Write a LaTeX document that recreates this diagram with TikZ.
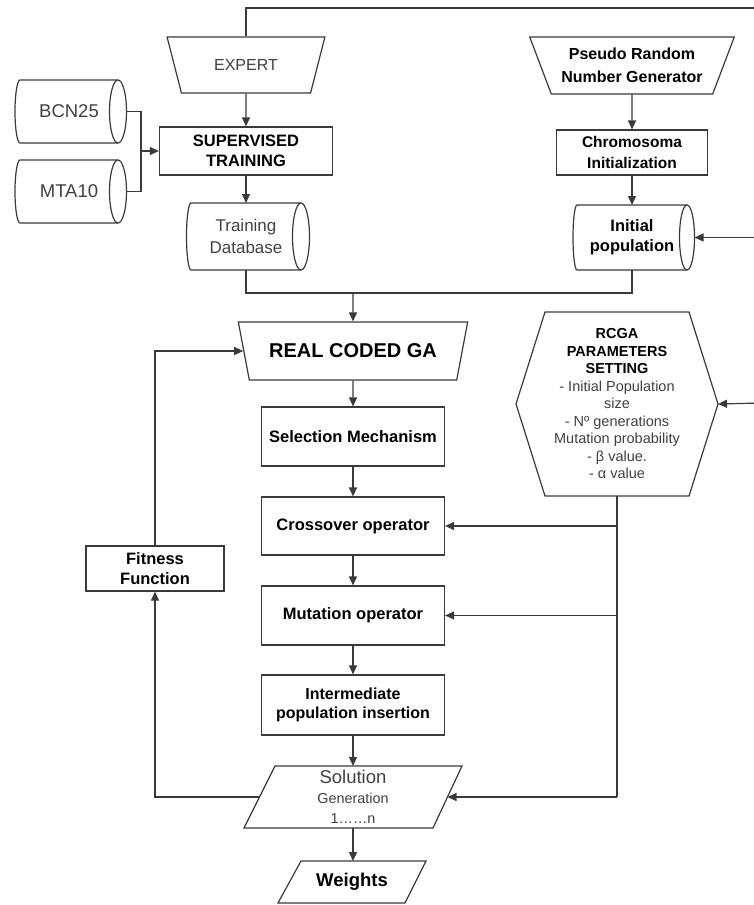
\documentclass[tikz,border=0pt]{standalone}
\usepackage{fontspec}
\setmainfont{Liberation Sans}
\usetikzlibrary{shapes.geometric,arrows.meta,calc}
\definecolor{lc}{HTML}{3A3A3A}
\definecolor{tc}{HTML}{404040}
% drum (stored data) outline around an invisible body node
\newcommand\drumoutline[4]{%
  \draw[ln] (#1.north west) -- (#1.north east)
    arc[start angle=90,end angle=-90,x radius=#3pt,y radius=#4pt]
    -- (#1.south west)
    arc[start angle=270,end angle=90,x radius=#2pt,y radius=#4pt] -- cycle;
  \draw[ln] (#1.north east) arc[start angle=90,end angle=270,x radius=#3pt,y radius=#4pt];
}
% parallelogram outline around an invisible body node: #2 top-left inset, #3 bottom-right inset
\newcommand\paraoutline[3]{%
  \draw[ln] (#1.south west) -- ($(#1.south east)+(-#3,0)$) -- (#1.north east)
    -- ($(#1.north west)+(#2,0)$) -- cycle;
}
\begin{document}
\begin{tikzpicture}[x=1pt,y=-1pt,
  shp/.style={draw=lc, line width=1.2pt, fill=white, align=center, inner sep=2pt},
  box/.style={shp, rectangle, text=black, font=\bfseries\fontsize{16.5}{20}\selectfont},
  trap/.style={shp, trapezium, trapezium stretches=true, shape border rotate=180,
    trapezium left angle=63.4, trapezium right angle=63.4},
  body/.style={inner sep=0pt, outer sep=0pt, align=center},
  ln/.style={draw=lc, line width=1.2pt},
  arr/.style={ln, -{Triangle[length=9pt,width=8pt]}}]
\useasboundingbox (0,0) rectangle (753,905);

% ---- nodes ----
\node[trap, minimum width=159pt, minimum height=56pt, text=tc,
  font=\fontsize{16}{19}\selectfont] (expert) at (246,65) {EXPERT};
\node[box, minimum width=173pt, minimum height=48pt] (sup) at (246,151) {SUPERVISED\\TRAINING};
\node[body, minimum width=98pt, minimum height=63pt, text=tc,
  font=\fontsize{18.5}{22}\selectfont] (bcn) at (69,111.5) {BCN25};
\node[body, minimum width=98pt, minimum height=63pt, text=tc,
  font=\fontsize{18.5}{22}\selectfont] (mta) at (69,191.5) {MTA10};
\node[body, minimum width=110pt, minimum height=67pt, text=tc,
  font=\fontsize{17}{21.5}\selectfont] (tdb) at (246,236.5) {Training\\Database};
\drumoutline{bcn}{5}{8.5}{31.5}
\drumoutline{mta}{5}{8.5}{31.5}
\drumoutline{tdb}{4.5}{8.5}{33.5}

\node[trap, minimum width=205pt, minimum height=57pt, text=black,
  font=\bfseries\fontsize{16}{23}\selectfont] (prng) at (632,65.5) {Pseudo Random\\Number Generator};
\node[box, minimum width=151pt, minimum height=45pt,
  font=\bfseries\fontsize{15.5}{20.5}\selectfont] (chrom) at (632,152.5) {Chromosoma\\Initialization};
\node[body, minimum width=110pt, minimum height=65pt, text=black,
  font=\bfseries\fontsize{16.5}{20}\selectfont] (ipop) at (632,237.5) {Initial\\population};
\drumoutline{ipop}{4}{7.5}{32.5}

\node[trap, minimum width=230pt, minimum height=58pt, text=black,
  font=\bfseries\fontsize{20}{24}\selectfont] (rcga) at (353,351) {REAL CODED GA};
\node[box, minimum width=183pt, minimum height=59pt] (sel) at (353,436.5) {Selection Mechanism};
\node[box, minimum width=183pt, minimum height=58pt] (cross) at (353,526) {Crossover operator};
\node[box, minimum width=183pt, minimum height=59pt] (mut) at (353,615.5) {Mutation operator};
\node[box, minimum width=183pt, minimum height=60pt,
  font=\bfseries\fontsize{16}{19.5}\selectfont] (inter) at (353,705) {Intermediate\\population insertion};
\node[box, minimum width=138pt, minimum height=45pt] (fit) at (155,568.5) {Fitness\\Function};

\node[body, minimum width=202pt, minimum height=184pt, text=tc,
  font=\fontsize{14.5}{17.5}\selectfont] (hex) at (617,404)
  {\textcolor{black}{\textbf{RCGA}}\\\textcolor{black}{\textbf{PARAMETERS}}\\\textcolor{black}{\textbf{SETTING}}\\- Initial Population\\size\\- Nº generations\\Mutation probability\\- β value.\\- α value};
\draw[ln] ($(hex.north west)+(29,0)$) -- ($(hex.north east)+(-29,0)$) -- (hex.east)
  -- ($(hex.south east)+(-29,0)$) -- ($(hex.south west)+(29,0)$) -- (hex.west) -- cycle;

\node[body, minimum width=218pt, minimum height=62pt, text=tc,
  font=\fontsize{14.4}{20}\selectfont] (sol) at (353,797)
  {{\fontsize{18.5}{20}\selectfont Solution}\\Generation\\1……n};
\paraoutline{sol}{31}{29}
\node[body, minimum width=148pt, minimum height=42pt, text=black,
  font=\bfseries\fontsize{18.5}{22}\selectfont] (wts) at (352,882) {Weights};
\paraoutline{wts}{23}{21}

% ---- helper coordinates ----
\coordinate (bcn-r) at ($(bcn.east)+(8.5,0)$);
\coordinate (mta-r) at ($(mta.east)+(8.5,0)$);
\coordinate (ipop-r) at ($(ipop.east)+(7.5,0)$);
\coordinate (sol-r) at ($(sol.east)+(-14.5,0)$);
\coordinate (sol-l) at ($(sol.west)+(15.5,0)$);
\coordinate (stj) at ($(sup.west)+(-18,0)$);
\coordinate (merge) at (353,293);
\coordinate (tr) at (762,8);
\coordinate (rb) at (762,403);

% ---- connectors ----
\draw[ln] (expert.north) |- (tr) -- (rb);
\draw[arr] (rb) -- (hex.east);
\draw[arr] (tr |- ipop-r) -- (ipop-r);
\draw[arr] (expert.south) -- (sup.north);
\draw[ln] (bcn-r) -| (stj);
\draw[ln] (mta-r) -| (stj);
\draw[arr] (stj) -- (sup.west);
\draw[arr] (sup.south) -- (tdb.north);
\draw[arr] (prng.south) -- (chrom.north);
\draw[arr] (chrom.south) -- (ipop.north);
\draw[ln] (tdb.south) |- (merge);
\draw[ln] (ipop.south) |- (merge);
\draw[arr] (merge) -- (rcga.north);
\draw[arr] (rcga.south) -- (sel.north);
\draw[arr] (sel.south) -- (cross.north);
\draw[arr] (cross.south) -- (mut.north);
\draw[arr] (mut.south) -- (inter.north);
\draw[arr] (inter.south) -- (inter.south |- sol.north);
\draw[arr] (inter.south |- sol.south) -- (inter.south |- wts.north);
\draw[ln] (hex.south) -- (hex.south |- sol-r);
\draw[arr] (hex.south |- sol-r) -- (sol-r);
\draw[arr] (hex.south |- cross.east) -- (cross.east);
\draw[arr] (hex.south |- mut.east) -- (mut.east);
\draw[arr] (sol-l) -| (fit.south);
\draw[arr] (fit.north) |- (rcga.west);
\end{tikzpicture}
\end{document}
